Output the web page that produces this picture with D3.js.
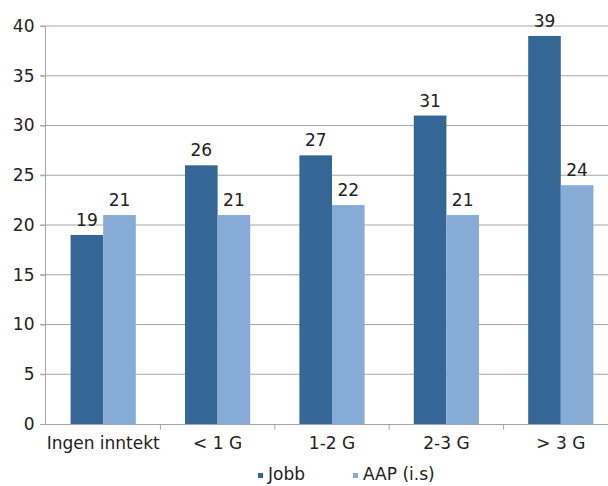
<!DOCTYPE html>
<html>
<head>
<meta charset="utf-8">
<script src="https://cdn.jsdelivr.net/npm/d3@7"></script>
<style>
  body { margin: 0; background: #fff; }
  svg { display: block; font-family: "DejaVu Sans", sans-serif; }
</style>
</head>
<body>
<div id="chart"></div>
<script>
const width = 608, height = 486;

// data
const categories = ['Ingen inntekt', '< 1 G', '1-2 G', '2-3 G', '> 3 G'];
const seriesNames = ['Jobb', 'AAP (i.s)'];
const jobb = [19, 26, 27, 31, 39];
const aap = [21, 21, 22, 21, 24];
const yTicks = [0, 5, 10, 15, 20, 25, 30, 35, 40];
const colors = ['#346795', '#86abd4'];

const svg = d3.select('#chart')
    .append('svg')
    .attr('width', width)
    .attr('height', height);

// plot runs off the right edge, like the cropped original
const x = d3.scaleBand()
    .domain(categories)
    .range([46, 618])
    .padding(0);

const y = d3.scaleLinear()
    .domain([0, 40])
    .range([424, 26]);

const barW = x.bandwidth() * 0.285;

// gridlines
svg.append('g')
    .selectAll('line')
    .data(yTicks.filter(d => d > 0))
    .enter().append('line')
    .attr('x1', 40).attr('x2', width)
    .attr('y1', d => y(d)).attr('y2', d => y(d))
    .attr('stroke', '#a6a6a6')
    .attr('stroke-width', 1);

// y axis
const yAxis = svg.append('g')
    .attr('transform', 'translate(45.5,0)')
    .call(d3.axisLeft(y).tickValues(yTicks).tickSize(5).tickPadding(6));
yAxis.selectAll('line, path').attr('stroke', '#a6a6a6');
yAxis.select('.domain').attr('d', `M0,${y(40)}V${y(0)}`);
yAxis.selectAll('text')
    .attr('font-size', 17)
    .attr('fill', '#222')
    .attr('font-family', '"DejaVu Sans", sans-serif');

// bars
const rows = categories.map((c, i) => ({ cat: c, vals: [jobb[i], aap[i]] }));
const groups = svg.append('g')
    .selectAll('g')
    .data(rows)
    .enter().append('g')
    .attr('transform', d => `translate(${x(d.cat) + x.bandwidth() / 2},0)`);

groups.selectAll('rect')
    .data(d => d.vals)
    .enter().append('rect')
    .attr('x', (d, i) => (i - 1) * barW)
    .attr('y', d => y(d))
    .attr('width', barW)
    .attr('height', d => y(0) - y(d))
    .attr('fill', (d, i) => colors[i]);

groups.selectAll('text')
    .data(d => d.vals)
    .enter().append('text')
    .attr('x', (d, i) => (i - 0.5) * barW)
    .attr('y', d => y(d) - 9)
    .attr('text-anchor', 'middle')
    .attr('font-size', 17)
    .attr('fill', '#222')
    .text(d => d);

// x axis
const xAxis = svg.append('g')
    .attr('transform', `translate(0,${y(0) + 0.5})`);
xAxis.append('line')
    .attr('x1', 40).attr('x2', width)
    .attr('stroke', '#a6a6a6');
xAxis.selectAll('.tick')
    .data(categories.slice(1))
    .enter().append('line')
    .attr('x1', d => x(d)).attr('x2', d => x(d))
    .attr('y1', 0).attr('y2', 5)
    .attr('stroke', '#a6a6a6');
xAxis.selectAll('text')
    .data(categories)
    .enter().append('text')
    .attr('x', d => x(d) + x.bandwidth() / 2)
    .attr('y', 24)
    .attr('text-anchor', 'middle')
    .attr('font-size', 17)
    .attr('fill', '#222')
    .text(d => d);

// legend
const legend = svg.append('g').attr('transform', 'translate(0,480)');
const legendX = [258, 353];
const items = legend.selectAll('g')
    .data(seriesNames)
    .enter().append('g')
    .attr('transform', (d, i) => `translate(${legendX[i]},0)`);
items.append('rect')
    .attr('x', 0).attr('y', -7)
    .attr('width', 5).attr('height', 5)
    .attr('fill', (d, i) => colors[i]);
items.append('text')
    .attr('x', 10).attr('y', 0)
    .attr('font-size', 17)
    .attr('fill', '#222')
    .text(d => d);
</script>
</body>
</html>
